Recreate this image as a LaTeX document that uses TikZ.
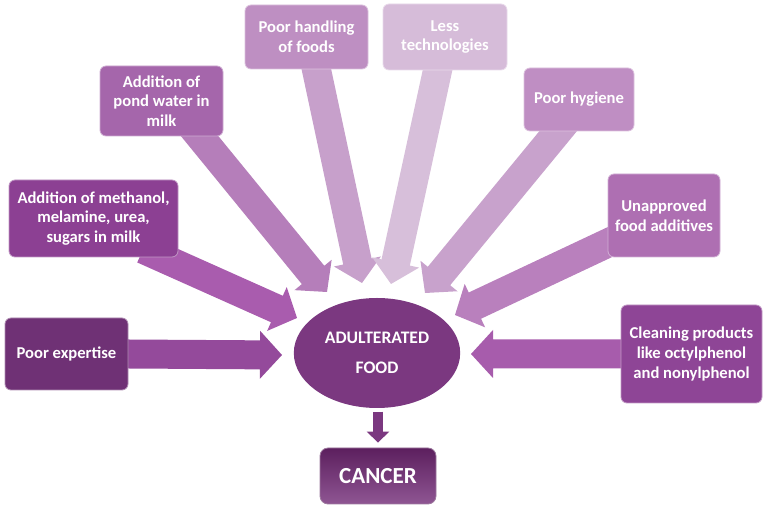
\documentclass[tikz,border=0pt]{standalone}
\usepackage{fontspec}
\setmainfont{Carlito}
\usetikzlibrary{calc,backgrounds,arrows.meta,shapes.geometric}

\definecolor{expertBox}{HTML}{6F3175}
\definecolor{expertArr}{HTML}{944A9B}
\definecolor{methBox}{HTML}{8C4093}
\definecolor{methArr}{HTML}{A95CAE}
\definecolor{pondBox}{HTML}{A566AB}
\definecolor{pondArr}{HTML}{B57EBA}
\definecolor{handBox}{HTML}{BE8FC2}
\definecolor{handArr}{HTML}{C7A0CB}
\definecolor{techBox}{HTML}{D6BCD9}
\definecolor{techArr}{HTML}{D7BFDA}
\definecolor{hygBox}{HTML}{BF8EC3}
\definecolor{hygArr}{HTML}{C8A2CC}
\definecolor{addBox}{HTML}{AE6FB2}
\definecolor{addArr}{HTML}{B980BD}
\definecolor{cleanBox}{HTML}{8E4596}
\definecolor{cleanArr}{HTML}{A75CAC}
\definecolor{foodFill}{HTML}{7B3880}
\definecolor{cancerFill}{HTML}{5C1F5E}

% wide arrow: colour, tail, tip
\newcommand{\fatarrow}[3]{%
  \coordinate (tl) at ($(#2)!-10pt!(#3)$);
  \coordinate (hb) at ($(#3)!11pt!(#2)$);
  \fill[#1] ($(tl)!7.25pt!90:(#3)$) -- ($(hb)!7.25pt!-90:(#2)$)
    -- ($(hb)!12pt!-90:(#2)$) -- (#3) -- ($(hb)!12pt!90:(#2)$)
    -- ($(hb)!7.25pt!90:(#2)$) -- ($(tl)!7.25pt!-90:(#3)$) -- cycle;
}

\begin{document}
\begin{tikzpicture}[x=0.5pt, y=-0.5pt,
    cause/.style={rectangle, rounded corners=3pt, fill=#1, draw=#1!55!white,
      line width=0.4pt, text=white, align=center, inner sep=2pt,
      font=\bfseries\fontsize{8.3}{9.9}\selectfont}]
	\useasboundingbox (0,0) rectangle (767,512);
	% causes
	\node[cause=expertBox, minimum width=61.5pt, minimum height=36pt] (expert) at (66.5,354) {Poor expertise};
	\node[cause=methBox, minimum width=84.5pt, minimum height=38.5pt] (meth) at (93.5,218.5) {Addition of methanol,\\melamine, urea,\\sugars in milk};
	\node[cause=pondBox, minimum width=61.5pt, minimum height=35pt] (pond) at (161.5,101) {Addition of\\pond water in\\milk};
	\node[cause=handBox, minimum width=61.5pt, minimum height=32pt] (hand) at (306.5,37) {Poor handling\\of foods};
	\node[cause=techBox, minimum width=62pt, minimum height=33pt] (tech) at (445,37) {Less\\technologies};
	\node[cause=hygBox, minimum width=55pt, minimum height=31.5pt] (hyg) at (579,99.5) {Poor hygiene};
	\node[cause=addBox, minimum width=56pt, minimum height=41.5pt] (add) at (664,215.5) {Unapproved\\food additives};
	\node[cause=cleanBox, minimum width=70.5pt, minimum height=49pt] (clean) at (691.5,354) {Cleaning products\\like octylphenol\\and nonylphenol};
	% centre and result
	\node[ellipse, fill=foodFill, text=white, minimum width=81pt, minimum height=55pt, align=center,
	  font=\bfseries\fontsize{8.8}{15}\selectfont] (food) at (377,353) {ADULTERATED\\FOOD};
	\node[rectangle, rounded corners=4pt, top color=cancerFill, middle color=cancerFill, bottom color=foodFill!85!white,
	  draw=cancerFill!60!white, line width=0.4pt, text=white, minimum width=58pt, minimum height=28pt,
	  font=\bfseries\fontsize{11.5}{13}\selectfont] (cancer) at (378,476) {CANCER};
	% arrow ends
	\coordinate (methT) at ($(meth.south east)!0.1!(meth.south west)$);
	\coordinate (pondT) at ($(pond.south west)!0.81!(pond.south east)$);
	\coordinate (handT) at ($(hand.south west)!0.58!(hand.south east)$);
	\coordinate (techT) at ($(tech.south west)!0.44!(tech.south east)$);
	\coordinate (hygT) at ($(hyg.south west)!0.31!(hyg.south east)$);
	\coordinate (addT) at ($(add.north west)!0.83!(add.south west)$);
	\coordinate (expertTip) at (282,355);
	\coordinate (methTip) at (297,318);
	\coordinate (pondTip) at (327,292);
	\coordinate (handTip) at (362,283);
	\coordinate (techTip) at (391,284);
	\coordinate (hygTip) at (425,293);
	\coordinate (addTip) at (455,315);
	\coordinate (cleanTip) at (471,354);
	\begin{pgfonlayer}{background}
		\fatarrow{expertArr}{expert.east}{expertTip}
		\fatarrow{methArr}{methT}{methTip}
		\fatarrow{pondArr}{pondT}{pondTip}
		\fatarrow{handArr}{handT}{handTip}
		\fatarrow{techArr}{techT}{techTip}
		\fatarrow{hygArr}{hygT}{hygTip}
		\fatarrow{addArr}{addT}{addTip}
		\fatarrow{cleanArr}{clean.west}{cleanTip}
	\end{pgfonlayer}
	\draw[foodFill, line width=5pt, -{Triangle[width=11pt, length=5.5pt]}]
	  ($(cancer.north)+(0,-36)$) -- ($(cancer.north)+(0,-5)$);
\end{tikzpicture}
\end{document}
